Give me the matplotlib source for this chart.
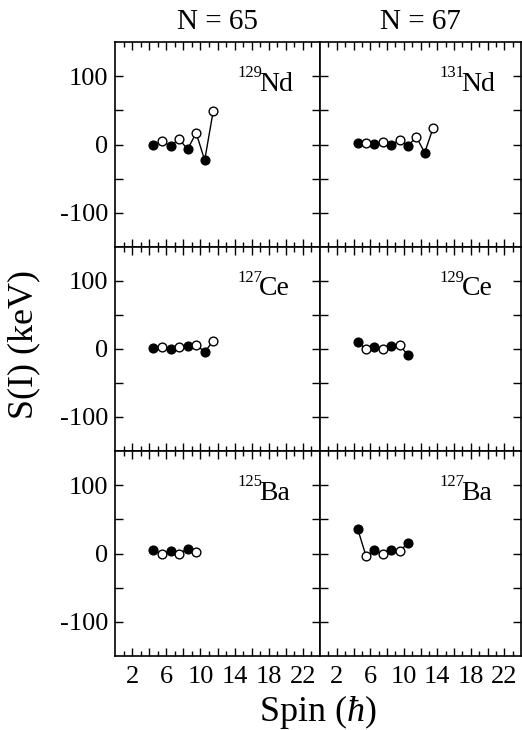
#!/usr/bin/python3
"""
Signature splitting S(I) for N = 65 and N = 67 isotones

Usage:

python3 plot.py
"""
import matplotlib
matplotlib.use("Agg")
import matplotlib.pyplot as plt
import numpy as np

plt.rcParams['font.family'] = ['Liberation Serif', 'DejaVu Serif']
plt.rcParams['mathtext.fontset'] = 'custom'
plt.rcParams['mathtext.rm'] = 'Liberation Serif'
plt.rcParams['mathtext.it'] = 'Liberation Serif:italic'
plt.rcParams['axes.unicode_minus'] = False

## data, spin in hbar, S(I) in keV
nd129_spin = [4.5, 5.5, 6.5, 7.5, 8.5, 9.5, 10.5, 11.5]
nd129_s = [0, 5, -2, 8, -7, 17, -23, 49]
nd131_spin = [4.5, 5.5, 6.5, 7.5, 8.5, 9.5, 10.5, 11.5, 12.5, 13.5]
nd131_s = [2, 2, 1, 4, 0, 6, -2, 11, -12, 24]
ce127_spin = [4.5, 5.5, 6.5, 7.5, 8.5, 9.5, 10.5, 11.5]
ce127_s = [1.5, 2.5, 0, 2.5, 4.5, 6.5, -4.5, 12]
ce129_spin = [4.5, 5.5, 6.5, 7.5, 8.5, 9.5, 10.5]
ce129_s = [10.5, -0.5, 3, 0.5, 4.5, 6, -9]
ba125_spin = [4.5, 5.5, 6.5, 7.5, 8.5, 9.5]
ba125_s = [4.5, -0.5, 3.5, 0, 7, 2]
ba127_spin = [4.5, 5.5, 6.5, 7.5, 8.5, 9.5, 10.5]
ba127_s = [36, -4, 4.5, -1, 4.5, 3, 15.5]

panels = [
    [(nd129_spin, nd129_s, "129", "Nd"), (nd131_spin, nd131_s, "131", "Nd")],
    [(ce127_spin, ce127_s, "127", "Ce"), (ce129_spin, ce129_s, "129", "Ce")],
    [(ba125_spin, ba125_s, "125", "Ba"), (ba127_spin, ba127_s, "127", "Ba")],
]
titles = ["N = 65", "N = 67"]
xticks_labeled = [2, 6, 10, 14, 18, 22]


def xfmt(v, pos):
    iv = int(round(v))
    return str(iv) if iv in xticks_labeled else ""


def yfmt(v, pos):
    iv = int(round(v))
    return str(iv) if iv % 100 == 0 else ""


def plot():
    W, H = 522., 730.
    fig = plt.figure(figsize=(W/100, H/100), dpi=100)
    cols = [(115., 320.), (320., 521.)]
    rows = [(42., 247.), (247., 451.), (451., 656.)]
    for r, (top, bot) in enumerate(rows):
        for c, (left, right) in enumerate(cols):
            ax = fig.add_axes([left/W, 1 - bot/H, (right-left)/W, (bot-top)/H])
            spin, s, mass, elem = panels[r][c]
            spin = np.array(spin)
            s = np.array(s)
            ax.plot(spin, s, color="black", linewidth=1.0, zorder=2)
            # filled and open circles alternate with spin
            ax.plot(spin[0::2], s[0::2], "o", color="black", markersize=6.3,
                    markeredgewidth=1.0, zorder=3)
            ax.plot(spin[1::2], s[1::2], "o", markerfacecolor="white",
                    markeredgecolor="black", markersize=6.3,
                    markeredgewidth=1.0, zorder=3)
            ax.set_xlim(0, 24)
            ax.set_ylim(-150, 150)
            ax.set_xticks(np.arange(2, 24, 2))
            ax.set_xticks(np.arange(1, 24, 2), minor=True)
            ax.set_yticks([-100, -50, 0, 50, 100])
            ax.xaxis.set_major_formatter(plt.FuncFormatter(xfmt))
            ax.yaxis.set_major_formatter(plt.FuncFormatter(yfmt))
            ax.tick_params(which="both", direction="in", top=True, right=True,
                           width=1.0, labelsize=19)
            ax.tick_params(axis="x", which="major", length=6, pad=7)
            ax.tick_params(axis="y", which="major", length=6, pad=5)
            ax.tick_params(which="minor", length=3.5)
            if c == 1:
                ax.tick_params(labelleft=False)
            if r < 2:
                ax.tick_params(labelbottom=False)
            for sp in ax.spines.values():
                sp.set_linewidth(1.2)
            ## isotope label with superscript mass number
            ax.text(0.596, 0.83, mass, transform=ax.transAxes, fontsize=12,
                    ha="left", va="baseline")
            ax.text(0.704, 0.763, elem, transform=ax.transAxes, fontsize=20,
                    ha="left", va="baseline")
            if r == 0:
                fig.text((left+right)/2/W, 1 - 22./H, titles[c], fontsize=21,
                         ha="center", va="center")
    fig.text(318./W, 1 - 712./H, r"Spin ($\hbar$)", fontsize=26,
             ha="center", va="center")
    fig.text(24./W, 1 - 344./H, "S(I) (keV)", fontsize=26, rotation=90,
             ha="center", va="center")
    fig.savefig("out.png", dpi=100)


plot()
